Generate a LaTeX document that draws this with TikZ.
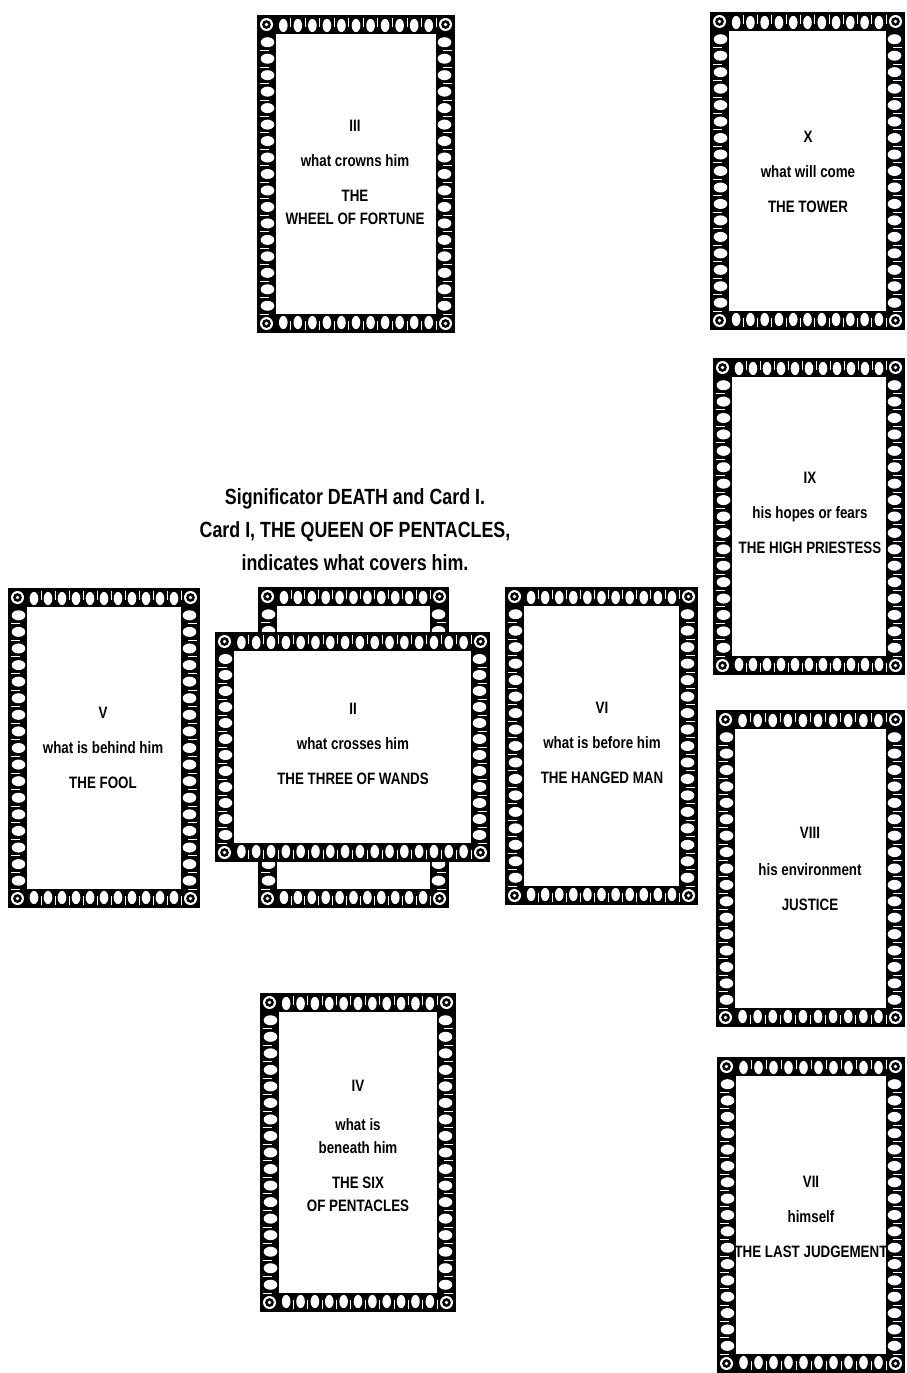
\documentclass[tikz,border=0pt]{standalone}
\usepackage{fontspec}
\setmainfont{Liberation Sans}[FakeStretch=0.81]
\usepackage{tikz}
\usetikzlibrary{positioning,calc}

\newcommand{\cardband}{19}
% decorated frame of one card: x1 y1 x2 y2 (picture units)
\newcommand{\cardframe}[4]{%
  \fill[black] (#1,#2) rectangle (#3,#4);
  \fill[white] (#1+\cardband,#2+\cardband) rectangle (#3-\cardband,#4-\cardband);
  \pgfmathtruncatemacro{\nh}{round((#3-#1-2*\cardband)/14.5)}
  \pgfmathsetmacro{\dh}{(#3-#1-2*\cardband)/\nh}
  \pgfmathtruncatemacro{\nv}{round((#4-#2-2*\cardband)/16.5)}
  \pgfmathsetmacro{\dv}{(#4-#2-2*\cardband)/\nv}
  \foreach \i in {1,...,\nh}{
    \fill[white] (#1+\cardband+\i*\dh-0.5*\dh,#2+\cardband/2+1) ellipse (4.3pt and 6.6pt);
    \fill[white] (#1+\cardband+\i*\dh-0.5*\dh,#4-\cardband/2-1) ellipse (4.3pt and 6.6pt);
  }
  \foreach \i in {1,...,\nh}{
    \draw[white, line width=0.7pt] (#1+\cardband+\i*\dh,#2+3) -- ++(0,9);
    \draw[white, line width=0.7pt] (#1+\cardband+\i*\dh,#4-3) -- ++(0,-9);
  }
  \foreach \i in {1,...,\nv}{
    \fill[white] (#1+\cardband/2+1,#2+\cardband+\i*\dv-0.5*\dv) ellipse (6.8pt and 5pt);
    \fill[white] (#3-\cardband/2-1,#2+\cardband+\i*\dv-0.5*\dv) ellipse (6.8pt and 5pt);
    \draw[white, line width=0.7pt] (#1+3,#2+\cardband+\i*\dv) -- ++(9,0);
    \draw[white, line width=0.7pt] (#3-3,#2+\cardband+\i*\dv) -- ++(-9,0);
  }
  \foreach \cx/\cy in {#1/#2,#3/#2,#1/#4,#3/#4}{
    \pgfmathsetmacro{\sx}{\cx==#1 ? 1 : -1}
    \pgfmathsetmacro{\sy}{\cy==#2 ? 1 : -1}
    \fill[white] (\cx+\sx*\cardband/2,\cy+\sy*\cardband/2) circle (6.5pt);
    \fill[black] (\cx+\sx*\cardband/2,\cy+\sy*\cardband/2) circle (4.4pt);
    \fill[white] (\cx+\sx*\cardband/2,\cy+\sy*\cardband/2) circle (1.8pt);
  }
}

\begin{document}
\begin{tikzpicture}[x=1pt,y=-1pt,
    cardtext/.style={align=center, font=\fontsize{16.5}{23}\selectfont\bfseries},
    headtext/.style={align=center, font=\fontsize{22}{33}\selectfont\bfseries}]
  \fill[white] (0,0) rectangle (906,1373);
  \useasboundingbox (0,0) rectangle (906,1373);

  % the cross
  \cardframe{257}{15}{455}{333}
  \node[cardtext] (cardIII) at (355,172) {III\\[12pt]what crowns him\\[12pt]THE\\WHEEL OF FORTUNE};
  \cardframe{8}{588}{200}{908}
  \node[cardtext] (cardV) at (103,748) {V\\[12pt]what is behind him\\[12pt]THE FOOL};
  \cardframe{258}{587}{449}{908}
  \cardframe{215}{632}{490}{862}
  \node[cardtext] (cardII) at (353,744) {II\\[12pt]what crosses him\\[12pt]THE THREE OF WANDS};
  \cardframe{505}{587}{698}{905}
  \node[cardtext] (cardVI) at (602,743) {VI\\[12pt]what is before him\\[12pt]THE HANGED MAN};
  \cardframe{260}{993}{456}{1312}
  \node[cardtext] (cardIV) at (358,1146) {IV\\[16pt]what is\\beneath him\\[12pt]THE SIX\\OF PENTACLES};

  \node[headtext] (signif) at (355,530) {Significator DEATH and Card I.\\Card I, THE QUEEN OF PENTACLES,\\indicates what covers him.};

  % the staff
  \cardframe{710}{12}{905}{330}
  \node[cardtext] (cardX) at (808,172) {X\\[12pt]what will come\\[12pt]THE TOWER};
  \cardframe{713}{358}{905}{675}
  \node[cardtext] (cardIX) at (810,513) {IX\\[12pt]his hopes or fears\\[12pt]THE HIGH PRIESTESS};
  \cardframe{716}{710}{905}{1027}
  \node[cardtext] (cardVIII) at (810,869) {VIII\\[14pt]his environment\\[12pt]JUSTICE};
  \cardframe{717}{1057}{905}{1373}
  \node[cardtext] (cardVII) at (811,1217) {VII\\[12pt]himself\\[12pt]THE LAST JUDGEMENT};
\end{tikzpicture}
\end{document}
